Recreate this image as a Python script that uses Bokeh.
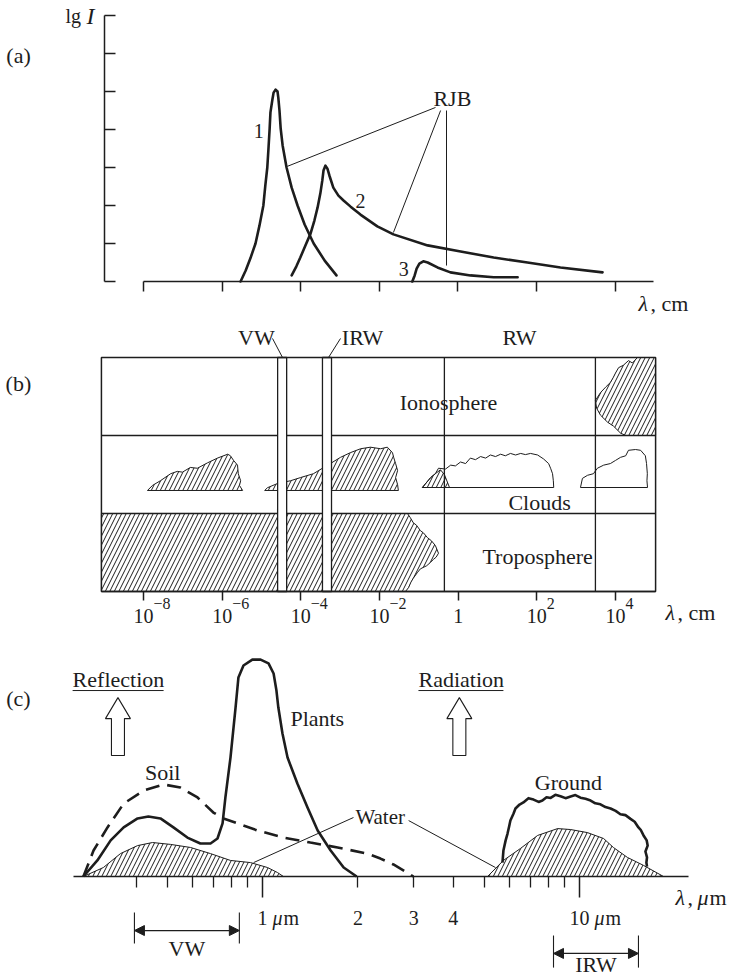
from bokeh.plotting import figure
from bokeh.models import (Range1d, LogAxis, LinearAxis, FixedTicker, Arrow,
                          NormalHead, CustomJSTickFormatter)
from bokeh.layouts import column
from bokeh.core.properties import value
from bokeh.embed import file_html
from bokeh.resources import INLINE

# ---------------------------------------------------------------- panel (a)
# x = lg(lambda / cm), y = lg I (arbitrary decades)
a_c1_lg = [-5.53, -5.40, -5.28, -5.15, -5.05, -4.95, -4.90, -4.85, -4.82, -4.79,
           -4.77, -4.72, -4.69, -4.64, -4.59, -4.57, -4.54, -4.51, -4.46, -4.36,
           -4.23, -4.08, -3.90, -3.67, -3.39, -3.09]
a_c1_I = [0, 0.29, 0.61, 1.0, 1.47, 2.0, 2.53, 3.0, 3.5, 4.03, 4.45, 4.79, 4.97,
          5.05, 5.0, 4.84, 4.5, 4.03, 3.58, 3.0, 2.47, 2.0, 1.5, 1.0, 0.55, 0.16]
a_c2_lg = [-4.23, -4.11, -4.01, -3.88, -3.75, -3.65, -3.57, -3.50, -3.45, -3.42,
           -3.37, -3.32, -3.27, -3.17, -3.04, -2.91, -2.73, -2.48, -2.05, -1.64,
           -0.77, 0.07, 0.91, 1.77, 2.61, 3.68]
a_c2_I = [0.16, 0.40, 0.63, 0.95, 1.26, 1.61, 1.95, 2.32, 2.66, 2.92, 3.05, 2.97,
          2.79, 2.47, 2.26, 2.13, 1.97, 1.76, 1.45, 1.24, 0.95, 0.79, 0.63, 0.50,
          0.37, 0.24]
a_c3_lg = [-1.16, -1.10, -1.05, -0.98, -0.88, -0.77, -0.52, -0.19, 0.32, 0.91, 1.52]
a_c3_I = [0, 0.16, 0.34, 0.47, 0.53, 0.50, 0.37, 0.24, 0.16, 0.11, 0.11]
a_curve_names = ["1", "2", "3"]
a_curve_label_lg = [-5.07, -2.48, -1.38]
a_curve_label_I = [3.95, 2.13, 0.34]
a_rjb_lg, a_rjb_I = -0.14, 4.82
a_leader_from_lg = [-0.57, -0.44, -0.29]
a_leader_from_I = [4.58, 4.50, 4.50]
a_leader_to_lg = [-4.34, -1.64, -0.29]
a_leader_to_I = [3.03, 1.29, 0.42]
a_xticks_lg = [-8, -6, -4, -2, 0, 2, 4]
a_yticks = [0, 1, 2, 3, 4, 5, 6, 7]

# ---------------------------------------------------------------- panel (b)
# x = lg(lambda / cm), y = layer (0-1 troposphere, 1-2 clouds, 2-3 ionosphere)
b_extent_lg = (-9.07, 5.02)
b_layer_bounds = [0, 1, 2, 3]
b_dividers_lg = [-0.35, 3.49]
b_vw_band_lg = (-4.59, -4.36)
b_irw_band_lg = (-3.45, -3.22)
b_tick_exp = [-8, -6, -4, -2, 0, 2, 4]

b_tropo_lg = [-9.07, -1.29, -1.22, -1.14, -1.06, -0.96, -0.88, -0.78, -0.68, -0.58,
              -0.50, -0.56, -0.63, -0.71, -0.80, -0.96, -1.04, -1.14, -1.20, -1.26,
              -1.34, -9.07]
b_tropo_y = [1.0, 1.0, 0.95, 0.88, 0.85, 0.78, 0.75, 0.69, 0.65, 0.59, 0.49, 0.44,
             0.41, 0.37, 0.33, 0.29, 0.24, 0.17, 0.12, 0.05, 0.0, 0.0]
b_iono_lg = [5.02, 4.56, 4.43, 4.33, 4.20, 4.08, 4.00, 3.94, 3.87, 3.75, 3.62, 3.49,
             3.52, 3.62, 3.80, 3.95, 4.13, 4.26, 5.02]
b_iono_y = [3.0, 3.0, 2.93, 2.96, 2.90, 2.87, 2.80, 2.74, 2.68, 2.62, 2.55, 2.45,
            2.35, 2.26, 2.17, 2.12, 2.03, 2.0, 2.0]
b_cl1_lg = [-7.90, -7.77, -7.57, -7.31, -7.14, -7.01, -6.81, -6.63, -6.37, -6.12,
            -5.86, -5.79, -5.71, -5.61, -5.59, -5.53, -5.56, -5.48]
b_cl1_y = [1.295, 1.36, 1.42, 1.51, 1.54, 1.53, 1.59, 1.58, 1.65, 1.71, 1.76, 1.74,
           1.68, 1.62, 1.51, 1.42, 1.36, 1.295]
b_cl2_lg = [-4.92, -4.85, -4.59, -4.26, -4.01, -3.68, -3.45, -3.25, -2.99, -2.74,
            -2.48, -2.23, -1.97, -1.80, -1.67, -1.64, -1.59, -1.54, -1.59, -1.54, -1.52]
b_cl2_y = [1.295, 1.33, 1.385, 1.42, 1.46, 1.51, 1.58, 1.64, 1.72, 1.78, 1.83, 1.85,
           1.83, 1.85, 1.78, 1.72, 1.64, 1.55, 1.46, 1.37, 1.295]
b_cl3_lg = [-0.91, -0.70, -0.58, -0.45, -0.35, -0.22]
b_cl3_y = [1.333, 1.46, 1.51, 1.56, 1.50, 1.333]
b_cl4_lg = [-0.91, -0.70, -0.58, -0.50, -0.32, -0.19, -0.07, 0.06, 0.19, 0.31, 0.44,
            0.57, 0.70, 0.82, 0.95, 1.08, 1.20, 1.33, 1.46, 1.59, 1.71, 1.84, 2.02,
            2.17, 2.30, 2.35, 2.40, 2.42, 2.43]
b_cl4_y = [1.333, 1.46, 1.51, 1.58, 1.57, 1.62, 1.61, 1.66, 1.64, 1.71, 1.69, 1.73,
           1.71, 1.75, 1.73, 1.76, 1.74, 1.77, 1.75, 1.77, 1.755, 1.77, 1.75, 1.70,
           1.64, 1.58, 1.51, 1.42, 1.333]
b_cl5_lg = [3.11, 3.16, 3.29, 3.44, 3.54, 3.70, 3.87, 4.00, 4.13, 4.26, 4.33, 4.51,
            4.64, 4.76, 4.79, 4.81, 4.80, 4.815]
b_cl5_y = [1.333, 1.45, 1.49, 1.51, 1.58, 1.62, 1.64, 1.68, 1.72, 1.74, 1.81, 1.82,
           1.81, 1.74, 1.64, 1.51, 1.42, 1.333]

# ---------------------------------------------------------------- panel (c)
# x = lg(lambda / um), y = relative reflection / radiation
c_plants_lg = [-0.565, -0.521, -0.479, -0.438, -0.394, -0.360, -0.322, -0.281, -0.237,
               -0.196, -0.164, -0.142, -0.126, -0.117, -0.101, -0.085, -0.076, -0.060,
               -0.032, -0.006, 0.019, 0.035, 0.044, 0.050, 0.063, 0.079, 0.110, 0.142,
               0.174, 0.215, 0.256, 0.297]
c_plants_y = [0, 6.8, 15.3, 20.8, 24.6, 25.4, 24.6, 20.8, 16.5, 14.0, 14.0, 16.1, 22.5,
              33.5, 50.4, 71.6, 84.3, 89.4, 91.9, 91.9, 90.3, 86.0, 78.8, 71.6, 60.6,
              50.4, 39.4, 29.2, 19.5, 11.0, 3.8, 0]
c_soil_lg = [-0.565, -0.533, -0.489, -0.438, -0.375, -0.312, -0.259, -0.205, -0.155,
             -0.123, -0.079, -0.016, 0.066, 0.151, 0.237, 0.331, 0.372, 0.413, 0.451, 0.476]
c_soil_y = [0, 11.0, 20.8, 30.9, 36.4, 39.0, 37.7, 33.5, 27.1, 24.6, 22.5, 19.5, 16.5,
            14.4, 12.3, 9.7, 7.6, 5.1, 2.1, 0]
c_water1_lg = [-0.565, -0.502, -0.448, -0.394, -0.347, -0.290, -0.227, -0.164, -0.101,
               -0.038, 0.016, 0.047, 0.066]
c_water1_y = [0, 3.8, 9.7, 13.1, 14.4, 13.6, 12.3, 9.7, 6.8, 5.9, 3.8, 1.7, 0]
c_water2_lg = [0.710, 0.760, 0.814, 0.868, 0.931, 0.972, 1.025, 1.076, 1.107, 1.151,
               1.202, 1.265]
c_water2_y = [0, 6.8, 11.9, 17.4, 20.3, 19.9, 18.6, 16.1, 12.3, 8.1, 4.7, 0]
c_ground_lg = [0.757, 0.760, 0.767, 0.773, 0.778, 0.782, 0.792, 0.798, 0.811, 0.823,
               0.839, 0.855, 0.871, 0.883, 0.896, 0.909, 0.924, 0.940, 0.956, 0.972,
               0.987, 1.003, 1.019, 1.035, 1.050, 1.066, 1.082, 1.098, 1.114, 1.129,
               1.145, 1.161, 1.174, 1.186, 1.193, 1.202, 1.212, 1.215, 1.208, 1.213,
               1.211, 1.213]
c_ground_y = [5.9, 11.0, 15.3, 18.2, 21.2, 23.7, 26.7, 28.8, 30.5, 31.4, 33.2, 32.6,
              31.6, 32.2, 33.6, 33.3, 34.6, 34.0, 33.2, 33.9, 34.5, 33.4, 32.9, 32.2,
              31.0, 30.6, 29.4, 28.8, 27.8, 26.4, 26.0, 24.4, 23.2, 20.8, 19.8, 17.4,
              15.3, 13.1, 10.6, 8.1, 5.9, 4.2]
c_major_ticks = [1, 10]
c_minor_ticks = [0.4, 0.5, 0.6, 0.7, 0.8, 0.9, 2, 3, 4, 5, 6, 7, 8, 9]
c_tick_label_at = [1, 2, 3, 4, 10]
c_tick_labels = ["1", "2", "3", "4", "10"]
c_vw_lg = (-0.404, -0.073)
c_irw_lg = (0.918, 1.186)
c_arrow_lg = [-0.456, 0.621]
c_heading_lg = [-0.599, 0.492]
c_heading_end_lg = [-0.312, 0.760]
c_headings = ["Reflection", "Radiation"]

# ---------------------------------------------------------------- styling
INK = "#1d1d1d"
FONT = value("Liberation Serif")
W = 731
WORD = "22px"
NUM = "20px"


def e10(seq):
    return [10.0 ** v for v in seq]


def make_fig(h, xr, yr, xlog=True):
    x_range = Range1d(10 ** xr[0], 10 ** xr[1]) if xlog else Range1d(*xr)
    p = figure(width=W, height=h, x_range=x_range, y_range=Range1d(*yr),
               x_axis_type="log" if xlog else "linear",
               x_axis_location=None, y_axis_location=None,
               output_backend="svg", toolbar_location=None,
               min_border=0, min_border_left=0, min_border_right=0,
               min_border_top=0, min_border_bottom=0)
    p.outline_line_color = None
    p.background_fill_color = "white"
    p.border_fill_color = "white"
    p.xgrid.visible = False
    p.ygrid.visible = False
    return p


def txt(p, x, y, t, size=WORD, align="center", style="normal", xo=0, yo=0):
    p.text(x=[x], y=[y], text=[t], text_font=FONT, text_font_size=size,
           text_align=align, text_baseline="middle", text_font_style=style,
           text_color=INK, x_offset=xo, y_offset=yo)


def style_axis(ax, out, tin=0, lw=1.5):
    ax.axis_line_color = INK
    ax.axis_line_width = lw
    ax.major_tick_line_color = INK
    ax.major_tick_line_width = lw
    ax.major_tick_out = out
    ax.major_tick_in = tin
    ax.minor_tick_line_color = None
    ax.formatter = CustomJSTickFormatter(code="return ''")


# ================================================================ panel (a)
A_X = (-11.639, 6.962)
A_Y = (-0.974, 7.395)
pa = make_fig(318, A_X, A_Y)

ax_a = LogAxis(fixed_location=0, ticker=FixedTicker(ticks=e10(a_xticks_lg)),
               bounds=(10 ** a_xticks_lg[0], 10 ** 4.977))
style_axis(ax_a, out=10)
pa.add_layout(ax_a, "below")
ay_a = LinearAxis(fixed_location=10 ** -8.992, ticker=FixedTicker(ticks=a_yticks),
                  bounds=(a_yticks[0], a_yticks[-1]))
style_axis(ay_a, out=0, tin=11)
pa.add_layout(ay_a, "left")

for lg, I in [(a_c1_lg, a_c1_I), (a_c2_lg, a_c2_I), (a_c3_lg, a_c3_I)]:
    pa.line(e10(lg), I, line_color=INK, line_width=2.6, line_join="round", line_cap="round")
pa.segment(x0=e10(a_leader_from_lg), y0=a_leader_from_I, x1=e10(a_leader_to_lg),
           y1=a_leader_to_I, line_color=INK, line_width=1)
for n, lg, I in zip(a_curve_names, a_curve_label_lg, a_curve_label_I):
    txt(pa, 10 ** lg, I, n, size=NUM)
txt(pa, 10 ** a_rjb_lg, a_rjb_I, "RJB")
txt(pa, 10 ** -11.18, 5.95, "(a)")
txt(pa, 10 ** -9.985, 7.0, "lg", size=NUM, align="left")
txt(pa, 10 ** -9.985, 7.0, "I", size="24px", align="left", style="italic", xo=21)
txt(pa, 10 ** 4.595, -0.58, "λ", align="left", style="italic")
txt(pa, 10 ** 4.595, -0.58, ", cm", align="left", xo=12)

# ================================================================ panel (b)
B_X = (-11.636, 6.950)
B_Y = (-0.526, 3.5)
pb = make_fig(314, B_X, B_Y)

hatch = dict(fill_color="white", hatch_pattern="/", hatch_scale=9, hatch_weight=1,
             hatch_color=INK, line_color=INK, line_width=1)
pb.patch(e10(b_tropo_lg), b_tropo_y, **hatch)
pb.patch(e10(b_iono_lg), b_iono_y, **hatch)
pb.patch(e10(b_cl1_lg), b_cl1_y, **hatch)
pb.patch(e10(b_cl2_lg), b_cl2_y, **hatch)
pb.patch(e10(b_cl3_lg), b_cl3_y, fill_color=None, hatch_pattern="/", hatch_scale=9,
         hatch_weight=1, hatch_color=INK, line_color=INK, line_width=1)
pb.patch(e10(b_cl4_lg), b_cl4_y, fill_color=None, line_color=INK, line_width=1)
pb.patch(e10(b_cl5_lg), b_cl5_y, fill_color=None, line_color=INK, line_width=1)

x0b, x1b = 10 ** b_extent_lg[0], 10 ** b_extent_lg[1]
pb.segment(x0=[x0b, x0b], x1=[x1b, x1b], y0=b_layer_bounds[1:3], y1=b_layer_bounds[1:3],
           line_color=INK, line_width=1.3)
pb.segment(x0=e10(b_dividers_lg), x1=e10(b_dividers_lg), y0=b_layer_bounds[0],
           y1=b_layer_bounds[-1], line_color=INK, line_width=1.3)
pb.quad(left=e10([b_vw_band_lg[0], b_irw_band_lg[0]]),
        right=e10([b_vw_band_lg[1], b_irw_band_lg[1]]),
        bottom=b_layer_bounds[0], top=b_layer_bounds[-1],
        fill_color="white", line_color=INK, line_width=1.3)
pb.quad(left=[x0b], right=[x1b], bottom=[b_layer_bounds[0]], top=[b_layer_bounds[-1]],
        fill_color=None, line_color=INK, line_width=1.5)

ax_b = LogAxis(fixed_location=0, ticker=FixedTicker(ticks=e10(b_tick_exp)),
               bounds=(x0b, x1b))
style_axis(ax_b, out=9)
pb.add_layout(ax_b, "below")

for e in b_tick_exp:
    if e == 0:
        txt(pb, 10 ** e, -0.32, "1", size=NUM)
    else:
        txt(pb, 10 ** e, -0.32, "10", size=NUM)
        txt(pb, 10 ** e, -0.155, str(e).replace("-", "−"), size="16px",
            align="left", xo=10)

txt(pb, 10 ** -11.18, 2.67, "(b)")
txt(pb, 10 ** -5.13, 3.256, "VW")
txt(pb, 10 ** -2.43, 3.256, "IRW")
txt(pb, 10 ** 1.56, 3.256, "RW")
pb.segment(x0=e10([-4.72, -3.296]), y0=[3.244, 3.0], x1=e10([-4.466, -2.991]),
           y1=[3.0, 3.244], line_color=INK, line_width=1)
txt(pb, 10 ** -0.245, 2.42, "Ionosphere")
txt(pb, 10 ** 2.07, 1.14, "Clouds")
txt(pb, 10 ** 2.02, 0.45, "Troposphere")
txt(pb, 10 ** 5.272, -0.27, "λ", align="left", style="italic")
txt(pb, 10 ** 5.272, -0.27, ", cm", align="left", xo=12)

# ================================================================ panel (c)
C_X = (-0.8265, 1.4795)
C_Y = (-43.22, 103.39)
pc = make_fig(346, C_X, C_Y)
ppd = W / (C_X[1] - C_X[0])  # pixels per decade

pc.patch(e10(c_water1_lg), c_water1_y, **hatch)
pc.patch(e10(c_water2_lg), c_water2_y, **hatch)
pc.line(e10(c_soil_lg), c_soil_y, line_color=INK, line_width=2.6, line_dash="14 8")
pc.line(e10(c_plants_lg), c_plants_y, line_color=INK, line_width=2.6,
        line_join="round")
pc.line(e10(c_ground_lg), c_ground_y, line_color=INK, line_width=2.6,
        line_join="round")

ax_c = LogAxis(fixed_location=0,
               ticker=FixedTicker(ticks=c_major_ticks, minor_ticks=c_minor_ticks),
               bounds=(10 ** -0.596, 10 ** 1.344))
style_axis(ax_c, out=21)
ax_c.minor_tick_line_color = INK
ax_c.minor_tick_line_width = 1.3
ax_c.minor_tick_out = 11
ax_c.minor_tick_in = 0
pc.add_layout(ax_c, "below")

for at, lab in zip(c_tick_label_at, c_tick_labels):
    txt(pc, at, -17.4, lab, size=NUM)
for at, off in [(1, 10), (10, 15)]:
    txt(pc, at, -17.4, "μ", size=NUM, align="left", style="italic", xo=off)
    txt(pc, at, -17.4, "m", size=NUM, align="left", xo=off + 11)

txt(pc, 10 ** 1.303, -8.9, "λ", align="left", style="italic")
txt(pc, 10 ** 1.303, -8.9, ",", align="left", xo=12)
txt(pc, 10 ** 1.303, -8.9, "μ", align="left", style="italic", xo=22)
txt(pc, 10 ** 1.303, -8.9, "m", align="left", xo=34)

# leaders for "Water"
pc.segment(x0=e10([-0.028, 0.461]), y0=[5.9, 23.7], x1=e10([0.287, 0.735]),
           y1=[25.0, 3.8], line_color=INK, line_width=1)

txt(pc, 10 ** -0.770, 75.4, "(c)")
txt(pc, 10 ** 0.088, 66.9, "Plants", align="left")
txt(pc, 10 ** -0.315, 44.1, "Soil")
txt(pc, 10 ** 0.293, 25.4, "Water", align="left", size="21px")
txt(pc, 10 ** 0.965, 39.8, "Ground")

for x0, x1, lab in zip(c_heading_lg, c_heading_end_lg, c_headings):
    txt(pc, 10 ** x0, 83.5, lab, align="left")
    pc.segment(x0=[10 ** x0], x1=[10 ** x1], y0=[78.8], y1=[78.8], line_color=INK,
               line_width=1)

# hollow block arrows
head, shaft = 12.5 / ppd, 6.5 / ppd
for xc in c_arrow_lg:
    dx = [0, head, shaft, shaft, -shaft, -shaft, -head]
    ys = [75.8, 66.9, 66.9, 51.3, 51.3, 66.9, 66.9]
    pc.patch([10 ** (xc + d) for d in dx], ys, fill_color="white", line_color=INK,
             line_width=1.1)

# VW / IRW spans
for (l, r), ytop, ybot, yarr, ylab, lab in [
        (c_vw_lg, -15.3, -28.4, -22.9, -30.5, "VW"),
        (c_irw_lg, -25.0, -38.6, -32.6, -37.3, "IRW")]:
    pc.segment(x0=[10 ** l, 10 ** r], x1=[10 ** l, 10 ** r], y0=[ytop, ytop],
               y1=[ybot, ybot], line_color=INK, line_width=1.1)
    pc.add_layout(Arrow(x_start=10 ** l, y_start=yarr, x_end=10 ** r, y_end=yarr,
                        line_color=INK, line_width=1.2,
                        start=NormalHead(size=10, fill_color=INK, line_color=INK),
                        end=NormalHead(size=10, fill_color=INK, line_color=INK)))
    txt(pc, 10 ** ((l + r) / 2), ylab, lab)

page = column(pa, pb, pc, spacing=0)
open("out.html", "w").write(file_html(page, INLINE))
